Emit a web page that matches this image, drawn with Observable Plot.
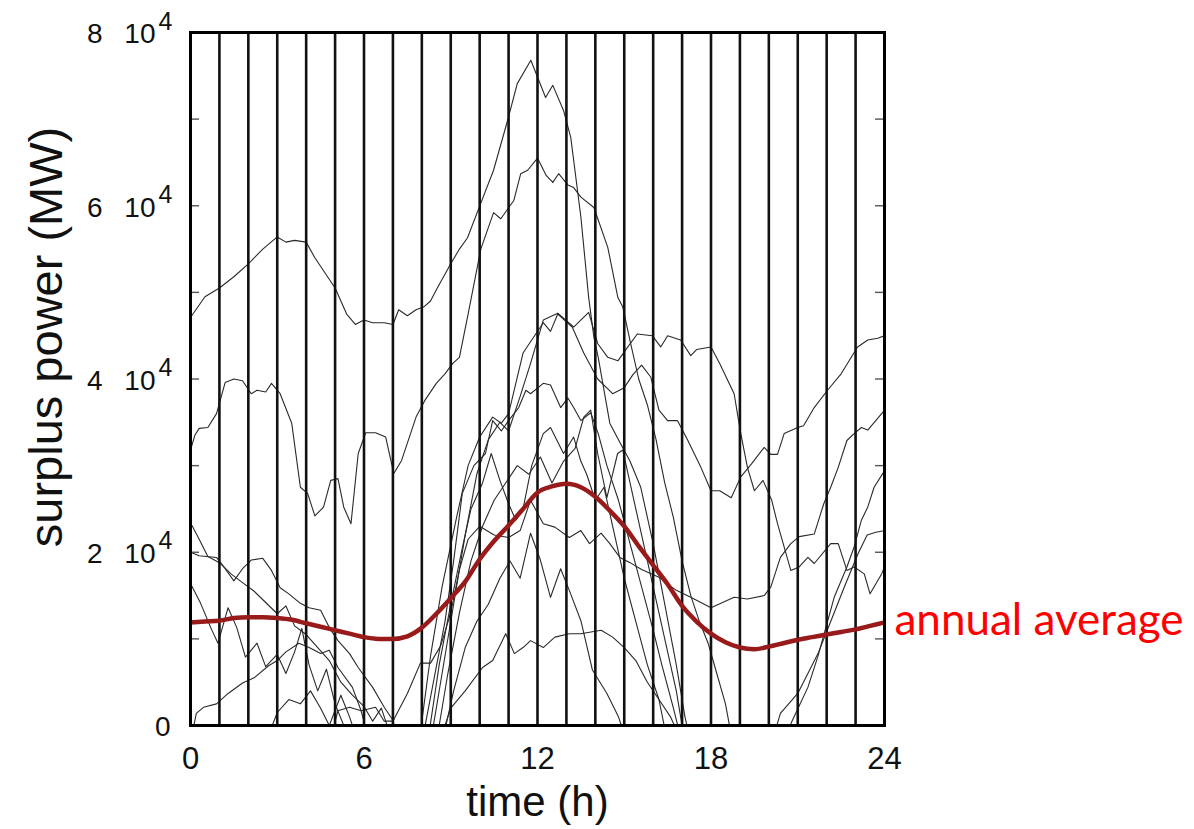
<!DOCTYPE html>
<html>
<head>
<meta charset="utf-8">
<script src="https://cdn.jsdelivr.net/npm/d3@7"></script>
<script src="https://cdn.jsdelivr.net/npm/@observablehq/plot@0.6"></script>
<style>
  html, body { margin: 0; padding: 0; background: #fff; }
</style>
</head>
<body>
<div id="chart"></div>
<script>
// ---- data (time in hours, surplus power in thousand MW) ----
const hours = d3.range(1, 24);
const xTicks = [0, 6, 12, 18, 24];
const yTicks = [0, 20, 40, 60, 80];
const yMinor = [10, 20, 30, 40, 50, 60, 70];

const annualAverage = [[0,11.9],[0.5,12.0],[1,12.1],[1.5,12.4],[2,12.5],[2.5,12.5],[3,12.4],[3.5,12.2],[4,11.8],[4.5,11.4],[5,11.0],[5.5,10.6],[6,10.2],[6.5,10.0],[7,10.0],[7.5,10.3],[8,11.3],[8.5,12.9],[9,14.7],[9.5,16.6],[10,19.2],[10.5,21.3],[11,23.1],[11.5,25.0],[12,26.9],[12.5,27.6],[13,27.9],[13.5,27.5],[14,26.4],[14.5,24.8],[15,23.0],[15.5,20.7],[16,18.5],[16.5,16.3],[17,13.8],[17.5,12.0],[18,10.6],[18.5,9.6],[19,9.0],[19.5,8.8],[20,9.1],[20.5,9.5],[21,9.9],[21.5,10.2],[22,10.5],[22.5,10.8],[23,11.1],[23.5,11.5],[24,11.9]];

const dayB = [[0,47.1],[0.5,49.5],[1,50.5],[1.5,51.8],[2,53.3],[2.5,55],[3,56.4],[3.3,55.8],[3.6,56],[4,55.8],[4.3,54],[4.7,52],[5,50.5],[5.4,47.5],[5.7,46.3],[6,46.8],[6.3,46.5],[6.7,46.5],[7,46.3],[7.2,48],[7.5,47.3],[7.8,48],[8.06,48.3],[8.3,49],[8.55,50.6],[9,53.3],[9.3,55],[9.58,56.3],[10.04,60.3],[10.48,64.1],[10.97,69.9],[11.3,74.1],[11.77,76.8],[12.28,72.5],[12.53,73.9],[12.9,71],[13.15,67.9],[13.5,58.7],[13.77,49.4],[13.95,44.8],[14.1,42.5],[14.5,34.9],[14.8,33],[15.2,30.5],[15.57,27.5],[16,21],[16.4,14],[16.8,7],[17.1,1],[17.3,-2]];
const dayC = [[0,31.8],[0.15,33.5],[0.3,34.3],[0.6,34.4],[0.9,36],[1.2,39.6],[1.5,40],[1.8,39.8],[2.1,38.3],[2.3,38.7],[2.6,38.5],[2.8,39.5],[3.1,38.3],[3.5,34.9],[3.8,27.5],[4.05,26.8],[4.3,24.2],[4.6,25.2],[4.85,28.3],[5.1,28.5],[5.3,25.2],[5.55,23.3],[5.8,31.4],[6.06,33.8],[6.4,33.8],[6.75,33.3],[7.03,29.1],[7.3,30.6],[7.8,35.6],[8.1,37.5],[8.5,39.5],[8.8,40.6],[9.07,41.8],[9.3,42.5],[9.6,47.5],[10.04,55],[10.48,59.2],[10.73,58.5],[11.18,60.6],[11.42,63.7],[11.66,64.1],[12.0,65.5],[12.3,63.5],[12.53,62.7],[12.73,63.7],[13.05,62.4],[13.25,62.1],[13.5,61],[13.95,59.8],[14.43,55.2],[14.78,49.4],[14.95,48.3],[15.22,44.1],[15.5,40],[15.8,37],[16.1,33],[16.4,28],[16.7,24],[17,19],[17.3,15],[17.6,12],[17.9,9.5],[18.2,6],[18.5,2.5],[18.75,-2]];
const dayP = [[8.3,-2],[8.7,6],[9.1,14],[9.5,22],[9.9,29],[10.3,33],[10.7,35],[11,34],[11.4,38],[11.76,41.8],[12.2,46.8],[12.7,47.6],[13.25,46],[13.77,47.7],[14.08,44.1],[14.43,42.5],[14.78,42.1],[15.1,43.6],[15.45,45.2],[15.97,45],[16.26,43.7],[16.5,45],[16.95,44.5],[17.3,42.7],[17.5,43.4],[18,43.7],[18.3,41.8],[18.8,38.3],[19.03,33.7],[19.26,29.8],[19.5,27.1],[19.8,28.3],[20.1,26],[20.3,23.3],[20.76,17.9],[21.05,18.3],[21.35,19.4],[21.57,18.7],[22.14,21],[22.4,21],[22.7,17.9],[22.95,18.3],[23.3,17.5],[23.5,15.2],[23.9,17.5],[24,18.3]];
const dayQ = [[7.9,-2],[8.3,8],[8.7,16],[9.2,24],[9.6,30],[10,33.3],[10.45,35.6],[10.75,34.9],[11,36],[11.25,39.5],[11.5,43],[11.8,44.5],[12.2,46.5],[12.45,45.5],[12.7,47.5],[13.2,46],[13.6,43],[14.08,40],[14.6,38.3],[15,39],[15.3,40.5],[15.6,41.6],[15.92,40.2],[16.2,36.4],[16.5,35.2],[16.84,35.2],[17.2,32.9],[17.65,29.8],[18,27.1],[18.3,27.1],[18.7,26.3],[19.03,28.7],[19.4,30.2],[19.84,32.1],[20.07,31.3],[20.3,31.3],[20.53,33.7],[21,34.4],[21.2,34.6],[21.57,36.7],[22.03,38.7],[22.5,40.6],[23.07,43.7],[23.42,44.5],[23.77,44.7],[24,45]];
const dayM1 = [[8,-2],[8.4,5],[8.8,12],[9.1,19],[9.4,26.8],[9.8,30],[10.2,31.4],[10.45,35.2],[10.75,34],[11,35.2],[11.35,36.7],[11.6,38.7],[11.76,38.3],[12.2,39.5],[12.45,39.3],[12.8,36.7],[13.05,37.8],[13.25,36.7],[13.5,35.2],[13.84,36.1],[14.1,33.7],[14.4,30],[14.8,26],[15.2,21],[15.6,16],[16,11],[16.3,7],[16.7,2],[17,-2]];
const dayM2 = [[8.2,-2],[8.6,7],[9,14],[9.4,20.5],[9.7,25],[10.1,28],[10.4,31.4],[10.7,28.3],[11,25.6],[11.25,23.7],[11.5,25],[11.8,30],[12.2,33.7],[12.45,34.4],[12.9,31.4],[13.25,33.3],[13.5,30.5],[13.7,29],[14,26],[14.3,27.5],[14.6,23],[15,17],[15.4,12],[15.8,7],[16.2,3],[16.5,-2]];
const dayM3 = [[8.5,-2],[8.9,6],[9.3,13],[9.7,19],[10.1,23],[10.5,26],[10.9,28],[11.3,30],[11.7,29],[12.1,31],[12.5,28],[12.9,30.5],[13.3,32],[13.6,35.6],[13.84,36.4],[14.08,31.4],[14.4,26.3],[14.77,31.4],[14.95,31.8],[15.2,28],[15.6,22],[16,16],[16.4,10],[16.8,4],[17.1,-2]];
const dayM4 = [[4.8,-2],[5.1,1.7],[5.5,2.1],[5.9,1.7],[6.4,2.1],[6.7,0.5],[7,0.5],[7.5,3.7],[7.95,7.2],[8.3,7.2],[8.65,9.2],[9,13],[9.3,18],[9.6,21.5],[10,23],[10.5,22],[11,21.7],[11.4,22.5],[11.76,26],[12.2,23.3],[12.6,22.9],[13.1,21.7],[13.5,22.5],[13.8,21],[14.2,22.2],[14.5,21],[14.85,19.4],[15.2,18.8],[15.6,18],[16.2,17.1],[16.8,15.6],[17.3,14.8],[18,13.6],[18.4,14.2],[18.8,14.8],[19.26,14.6],[19.84,15],[20.07,16],[20.4,19.4],[20.76,21],[21.05,21.8],[21.57,22.1],[21.9,25.6],[22.14,27.5],[22.4,29.8],[22.7,32.9],[22.95,33.7],[23.2,34.4],[23.42,34.1],[24,36.4]];
const dayM5 = [[8.7,-2],[9.1,4],[9.5,9],[9.9,12],[10.3,14],[10.7,17],[11.05,19],[11.4,17],[11.76,22.2],[12.1,19.1],[12.45,14.8],[12.8,18.1],[13.1,15.6],[13.5,12.1],[13.9,6.4],[14.4,3.7],[14.8,1],[15.1,-2]];
const dayL1 = [[8.6,-2],[9,2],[9.5,4],[10.1,6.7],[10.45,7.5],[10.9,10.6],[11.2,8.3],[11.5,9],[11.76,9.8],[12.2,9],[12.6,10.2],[13.1,10.6],[13.5,10.6],[14.2,11],[14.6,10.2],[15,9],[15.4,7.5],[15.8,5],[16.2,3],[16.6,1],[17,-2]];
const dayS = [[20.5,-2],[20.8,0.5],[21.35,4.4],[21.7,8],[22.26,14.8],[22.5,16.7],[22.7,18.3],[22.95,20.6],[23.2,23.7],[23.42,25.2],[23.64,27.5],[24,29.4]];
const dayT = [[20.1,-2],[20.4,1.4],[21,3.7],[21.35,6],[21.7,8.3],[22.15,12.1],[22.6,15.9],[23.08,19.8],[23.4,22],[23.7,22.3],[24,22.5]];
const dayN1 = [[0,23.4],[0.3,21.5],[0.6,19.5],[1,18.8],[1.4,17.5],[1.8,16.5],[2.2,15.5],[2.6,14.2],[3,12.9],[3.3,13.8],[3.6,11.5],[4,10.5],[4.4,9],[4.8,7.5],[5.2,5],[5.6,3.5],[6,2.2],[6.3,0.5],[6.6,2],[7,-2]];
const dayN2 = [[0,20],[0.3,19.6],[0.9,19.4],[1.2,18.1],[1.5,16.7],[1.8,18.1],[2.1,19.1],[2.5,19.3],[2.8,17.9],[3.1,15.9],[3.4,15.2],[3.8,14.1],[4.1,13.6],[4.5,13.3],[4.8,11.3],[5.1,9.8],[5.5,8.3],[5.8,6.7],[6.3,4.4],[6.7,2.1],[7,0.6],[7.2,-2]];
const dayN3 = [[0,16.4],[0.35,14.1],[0.7,11.3],[0.95,9.5],[1.3,13.6],[1.6,11.3],[1.9,7.9],[2.3,9.5],[2.6,6.8],[3,8.2],[3.3,6],[3.6,8.5],[3.85,11.2],[4.1,7],[4.4,4],[4.7,6.5],[5,2.5],[5.3,0],[5.6,-2]];
const dayN4 = [[0,-2],[0.2,1.4],[0.45,2.1],[0.9,2.5],[1.3,3.7],[1.8,4.9],[2.2,5.5],[2.7,6.9],[3,7.5],[3.3,8.5],[3.75,9.5],[4.1,9],[4.5,8.3],[4.8,8.7],[5.1,6.7],[5.6,4.4],[5.9,1.7],[6.2,-2]];
const dayN5 = [[2.6,-2],[3,1.5],[3.4,3],[3.8,2.5],[4.15,4],[4.5,2],[4.8,0],[5.2,3.5],[5.5,1],[5.8,-2]];

const days = [
  ["B", dayB], ["C", dayC], ["P", dayP], ["Q", dayQ], ["M1", dayM1], ["M2", dayM2],
  ["M3", dayM3], ["M4", dayM4], ["M5", dayM5], ["L1", dayL1], ["S", dayS], ["T", dayT],
  ["N1", dayN1], ["N2", dayN2], ["N3", dayN3], ["N4", dayN4], ["N5", dayN5]
];
const dayRows = days.flatMap(([name, pts]) => pts.map(([h, v]) => ({name, h, v})));
const avgRows = annualAverage.map(([h, v]) => ({h, v}));
const avgEnd = avgRows[avgRows.length - 1];

const W = 1194, H = 829, mL = 190, mR = 310, mT = 32, mB = 104;
const frameW = W - mL - mR;
const font = "'Liberation Sans', Arial, Helvetica, sans-serif";

const chart = Plot.plot({
  width: W,
  height: H,
  marginLeft: mL,
  marginRight: mR,
  marginTop: mT,
  marginBottom: mB,
  x: {domain: [0, 24], axis: null},
  y: {domain: [0, 80], axis: null},
  style: {fontFamily: font, background: "#fff", color: "#000", overflow: "visible"},
  marks: [
    Plot.line(dayRows, {x: "h", y: "v", z: "name", stroke: "#2a2a2a", strokeWidth: 1.1, clip: true}),
    Plot.ruleX(hours, {stroke: "#111", strokeWidth: 2.6}),
    Plot.tickY(yMinor, {y: d => d, insetRight: frameW - 9, stroke: "#555", strokeWidth: 1.4}),
    Plot.tickY(yMinor, {y: d => d, insetLeft: frameW - 9, stroke: "#555", strokeWidth: 1.4}),
    Plot.line(avgRows, {x: "h", y: "v", stroke: "#981a1a", strokeWidth: 4.5, curve: "monotone-x", clip: true}),
    Plot.frame({stroke: "#000", strokeWidth: 3}),
    // x tick labels
    Plot.text(xTicks, {x: d => d, y: 0, text: d => String(d), dy: 34, fontSize: 31, fill: "#111"}),
    // y tick labels: mantissa and "10", then the exponent
    Plot.text(yTicks, {x: 0, y: d => d, text: d => `${d / 10}\u2002\u00a010`, filter: d => d > 0,
      dx: -35, dy: 2, textAnchor: "end", fontSize: 28, fill: "#111"}),
    Plot.text(yTicks, {x: 0, y: d => d, text: () => "0", filter: d => d === 0,
      dx: -20, dy: 2, textAnchor: "end", fontSize: 28, fill: "#111"}),
    Plot.text(yTicks, {x: 0, y: d => d, text: () => "4", filter: d => d > 0,
      dx: -18, dy: -11, textAnchor: "end", fontSize: 25, fill: "#111"}),
    // axis titles
    Plot.text(["time (h)"], {frameAnchor: "bottom", text: d => d, dy: 77, textAnchor: "middle",
      lineAnchor: "middle", fontSize: 42, fill: "#111"}),
    Plot.text(["surplus power (MW)"], {frameAnchor: "left", text: d => d, dx: -144, dy: -42,
      textAnchor: "middle", lineAnchor: "middle", rotate: -90, fontSize: 47, fill: "#111"}),
    // annotation
    Plot.text([avgEnd], {x: "h", y: "v", text: () => "annual average", dx: 10, dy: -2,
      textAnchor: "start", fontSize: 44, fill: "#ff0000", fontFamily: "Lato, 'Open Sans', sans-serif"})
  ]
});
document.getElementById("chart").appendChild(chart);
</script>
</body>
</html>
